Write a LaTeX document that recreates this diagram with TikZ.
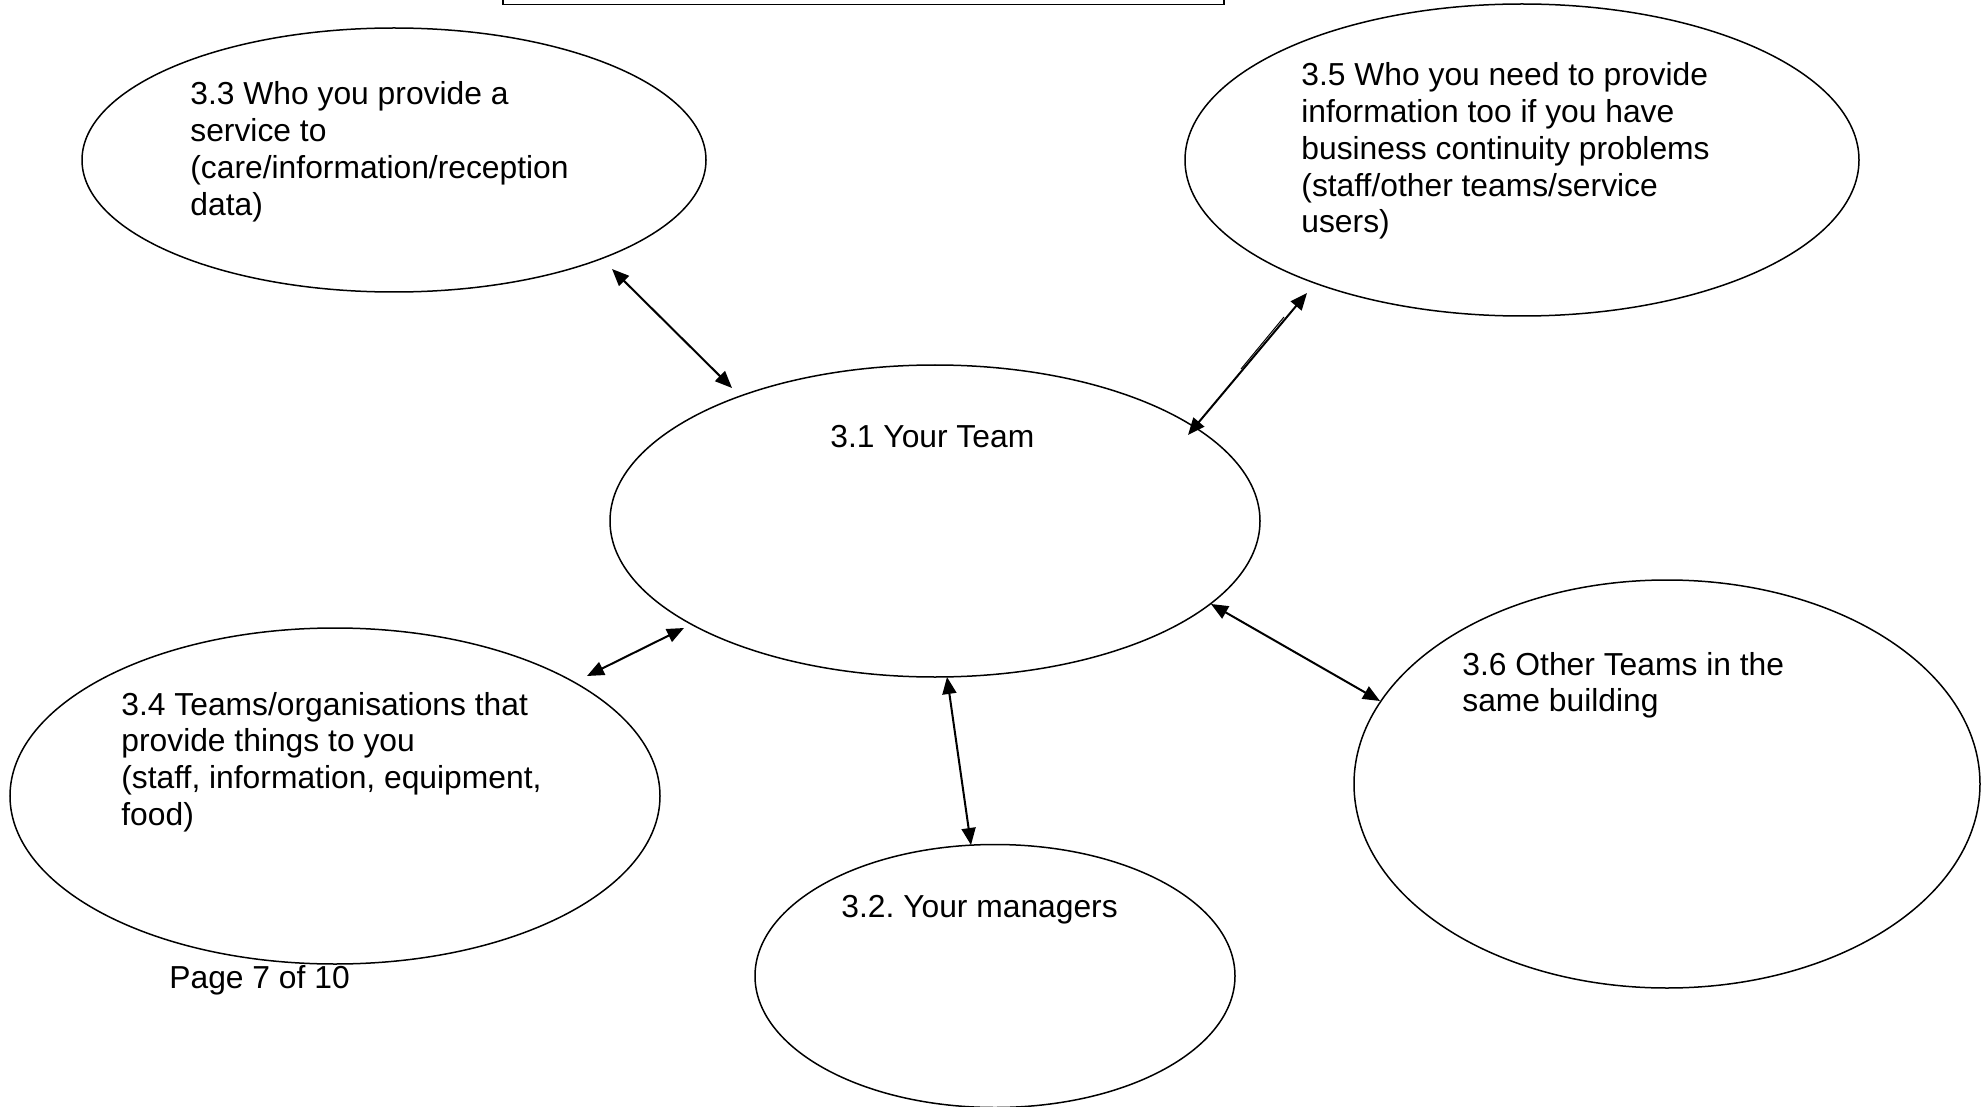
\documentclass[tikz,border=0pt]{standalone}
\usepackage{fontspec}
\setmainfont{Liberation Sans}
\usetikzlibrary{shapes.geometric,arrows.meta}
\frenchspacing

\begin{document}
\begin{tikzpicture}[x=0.5pt,y=-0.5pt,
  bubble/.style={draw, ellipse, line width=0.75pt, inner sep=0pt},
  label/.style={anchor=base west, inner sep=0pt,
    font=\fontsize{15.9}{18.35}\selectfont},
  link/.style={line width=1pt, {Triangle[length=8.5pt,width=7pt]}-{Triangle[length=8.5pt,width=7pt]}}]

\useasboundingbox (0,0) rectangle (1982,1107);

% frame at the top edge
\draw[line width=0.75pt] (503,-20) rectangle (1224,4.5);

% ellipses
\node[bubble, minimum width=312pt, minimum height=132pt] (e33) at (394,160) {};
\node[bubble, minimum width=337pt, minimum height=156pt] (e35) at (1522,160) {};
\node[bubble, minimum width=325pt, minimum height=156pt] (e31) at (935,521) {};
\node[bubble, minimum width=325pt, minimum height=168pt] (e34) at (335,796) {};
\node[bubble, minimum width=240pt, minimum height=131.5pt] (e32) at (995,976) {};
\node[bubble, minimum width=313pt, minimum height=204pt] (e36) at (1667,784) {};

% texts
\node[label] (t33) at (190,105) {\begin{tabular}[t]{@{}l@{}}3.3 Who you provide a\\service to\\(care/information/reception\\data)\end{tabular}};
\node[label] (t35) at (1301,86) {\begin{tabular}[t]{@{}l@{}}3.5 Who you need to provide\\information too if you have\\business continuity problems\\(staff/other teams/service\\users)\end{tabular}};
\node[label] (t31) at (830,447) {3.1 Your Team};
\node[label] (t34) at (121,715) {\begin{tabular}[t]{@{}l@{}}3.4 Teams/organisations that\\provide things to you\\(staff, information, equipment,\\food)\end{tabular}};
\node[label] (t32) at (841,917) {3.2. Your managers};
\node[label] (t36) at (1462,675) {\begin{tabular}[t]{@{}l@{}}3.6 Other Teams in the\\same building\end{tabular}};
\node[label] (page) at (169,988) {Page 7 of 10};

% connector ends
\coordinate (p33) at (612,269);
\coordinate (q33) at (732,388);
\coordinate (p35) at (1307,293);
\coordinate (q35) at (1188,435);
\coordinate (p34) at (587,676);
\coordinate (q34) at (684,628);
\coordinate (p32) at (947,677);
\coordinate (q32) at (971,845);
\coordinate (p36) at (1211,604);
\coordinate (q36) at (1380,701);
\coordinate (s1) at (1284,317);
\coordinate (s2) at (1241,369);

% connectors
\draw[link] (p33) -- (q33);
\draw[link] (p35) -- (q35);
\draw[line width=0.5pt] (s1) -- (s2);
\draw[link] (p34) -- (q34);
\draw[link] (p32) -- (q32);
\draw[link] (p36) -- (q36);

\end{tikzpicture}
\end{document}
